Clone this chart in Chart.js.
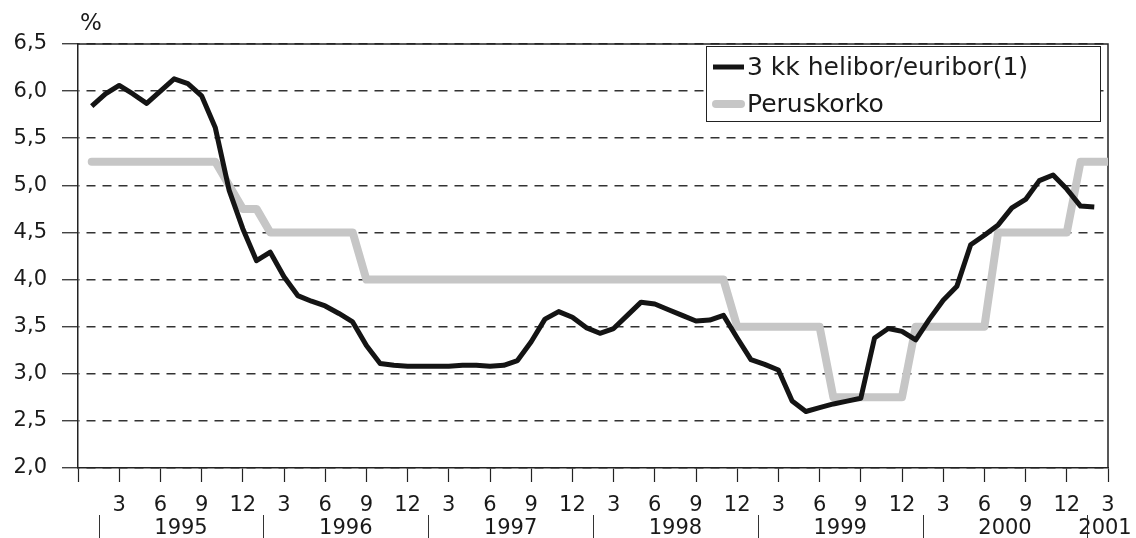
<!DOCTYPE html>
<html lang="fi">
<head>
<meta charset="UTF-8">
<title>3 kk helibor/euribor ja peruskorko</title>
<script src="https://cdn.jsdelivr.net/npm/chart.js"></script>
<style>
  body { margin: 0; background: #fff; }
  .wrap { width: 1136px; height: 538px; position: relative; }
</style>
</head>
<body>
<div class="wrap"><canvas id="korot"></canvas></div>
<script>
// 3 kk helibor/euribor, kuukausittain 1/1995 - 2/2001
const helibor = [
  5.84, 5.97, 6.06, 5.97, 5.87, 6.00, 6.13, 6.08, 5.95, 5.61, 4.95, 4.54,
  4.20, 4.29, 4.03, 3.83, 3.77, 3.72, 3.64, 3.55, 3.30, 3.11, 3.09, 3.08,
  3.08, 3.08, 3.08, 3.09, 3.09, 3.08, 3.09, 3.14, 3.34, 3.58, 3.66, 3.60,
  3.49, 3.43, 3.48, 3.62, 3.76, 3.74, 3.68, 3.62, 3.56, 3.57, 3.62, 3.38,
  3.15, 3.10, 3.04, 2.71, 2.60, 2.64, 2.68, 2.71, 2.74, 3.38, 3.48, 3.45,
  3.36, 3.58, 3.78, 3.93, 4.37, 4.47, 4.58, 4.76, 4.85, 5.05, 5.11, 4.96,
  4.78, 4.77
];
// peruskorko 1/1995 - 3/2001
const peruskorko = [
  5.25, 5.25, 5.25, 5.25, 5.25, 5.25, 5.25, 5.25, 5.25, 5.25, 5.00, 4.75,
  4.75, 4.50, 4.50, 4.50, 4.50, 4.50, 4.50, 4.50, 4.00, 4.00, 4.00, 4.00,
  4.00, 4.00, 4.00, 4.00, 4.00, 4.00, 4.00, 4.00, 4.00, 4.00, 4.00, 4.00,
  4.00, 4.00, 4.00, 4.00, 4.00, 4.00, 4.00, 4.00, 4.00, 4.00, 4.00, 3.50,
  3.50, 3.50, 3.50, 3.50, 3.50, 3.50, 2.75, 2.75, 2.75, 2.75, 2.75, 2.75,
  3.50, 3.50, 3.50, 3.50, 3.50, 3.50, 4.50, 4.50, 4.50, 4.50, 4.50, 4.50,
  5.25, 5.25, 5.25
];
const monthTicks = ['3', '6', '9', '12'];
const yearLabels = ['1995', '1996', '1997', '1998', '1999', '2000', '2001'];
const seriesNames = ['3 kk helibor/euribor(1)', 'Peruskorko'];

const FONT = '"DejaVu Sans", "Liberation Sans", sans-serif';
const INK = '#1a1a1a';

// kehys, %-merkki, vuodet ja selite
const extras = {
  id: 'extras',
  beforeDatasetsDraw(chart) {
    const { ctx, chartArea: a } = chart;
    ctx.save();
    ctx.strokeStyle = '#222';
    ctx.lineWidth = 1.5;
    ctx.beginPath();
    ctx.moveTo(a.left, a.top);
    ctx.lineTo(a.right, a.top);
    ctx.lineTo(a.right, a.bottom);
    ctx.stroke();
    ctx.restore();
  },
  afterDraw(chart) {
    const { ctx, scales: { x }, width } = chart;
    ctx.save();
    ctx.fillStyle = INK;
    ctx.textBaseline = 'middle';
    ctx.font = '23px ' + FONT;
    ctx.textAlign = 'left';
    ctx.fillText('%', 80, 24);

    // vuosirivi
    ctx.font = '21px ' + FONT;
    ctx.textAlign = 'center';
    ctx.strokeStyle = '#333';
    ctx.lineWidth = 1;
    yearLabels.forEach((yr, i) => {
      const sx = Math.round(x.getPixelForValue(1.5 + 12 * i)) + 0.5;
      ctx.beginPath();
      ctx.moveTo(sx, 515);
      ctx.lineTo(sx, 538);
      ctx.stroke();
      const cx = Math.min(x.getPixelForValue(7.5 + 12 * i), width - 31);
      ctx.fillText(yr, cx, 529);
    });

    // selite
    ctx.fillStyle = '#fff';
    ctx.fillRect(706.5, 46.5, 394, 75);
    ctx.strokeStyle = '#222';
    ctx.lineWidth = 1;
    ctx.strokeRect(706.5, 46.5, 394, 75);
    const rows = [67, 104];
    chart.data.datasets.forEach((ds, i) => {
      ctx.strokeStyle = ds.borderColor;
      ctx.lineWidth = ds.borderWidth;
      ctx.lineCap = i === 0 ? 'butt' : 'round';
      ctx.beginPath();
      ctx.moveTo(i === 0 ? 713 : 716, rows[i]);
      ctx.lineTo(i === 0 ? 744 : 741, rows[i]);
      ctx.stroke();
      ctx.fillStyle = INK;
      ctx.textAlign = 'left';
      ctx.font = '25px ' + FONT;
      ctx.fillText(ds.label, 747, rows[i] + 1);
    });
    ctx.restore();
  }
};

const ctx = document.getElementById('korot').getContext('2d');
new Chart(ctx, {
  type: 'line',
  data: {
    datasets: [{
      label: seriesNames[0],
      data: helibor.map((v, i) => ({ x: i + 1, y: v })),
      borderColor: '#141414',
      borderWidth: 5,
      borderJoinStyle: 'round',
      pointRadius: 0,
      tension: 0
    }, {
      label: seriesNames[1],
      data: peruskorko.map((v, i) => ({ x: i + 1, y: v })),
      borderColor: '#c6c6c6',
      borderWidth: 8,
      borderCapStyle: 'round',
      borderJoinStyle: 'round',
      pointRadius: 0,
      tension: 0
    }]
  },
  options: {
    responsive: true,
    maintainAspectRatio: false,
    animation: false,
    layout: { padding: { top: 44, right: 28, left: 0, bottom: 0 } },
    plugins: { legend: { display: false }, tooltip: { enabled: false } },
    scales: {
      x: {
        type: 'linear',
        min: 0,
        max: 75,
        afterFit: s => { s.height = 70; },
        ticks: {
          stepSize: 3,
          autoSkip: false,
          maxRotation: 0,
          padding: 11,
          color: INK,
          font: { size: 21, family: FONT },
          callback: v => v > 0 ? monthTicks[(v / 3 - 1) % 4] : ''
        },
        grid: {
          drawOnChartArea: false,
          tickLength: 14,
          tickColor: '#222',
          tickWidth: 1.2
        },
        border: { color: '#222', width: 1.5 }
      },
      y: {
        min: 2,
        max: 6.5,
        afterFit: s => { s.width = 78; },
        ticks: {
          stepSize: 0.5,
          padding: 15,
          color: INK,
          font: { size: 21, family: FONT },
          callback: v => v.toFixed(1).replace('.', ',')
        },
        grid: {
          color: '#333',
          lineWidth: 1.5,
          tickLength: 16,
          tickColor: '#222',
          tickWidth: 1.2
        },
        border: { color: '#222', width: 1.5, dash: [9, 7], dashOffset: 8 }
      }
    }
  },
  plugins: [extras]
});
</script>
</body>
</html>
